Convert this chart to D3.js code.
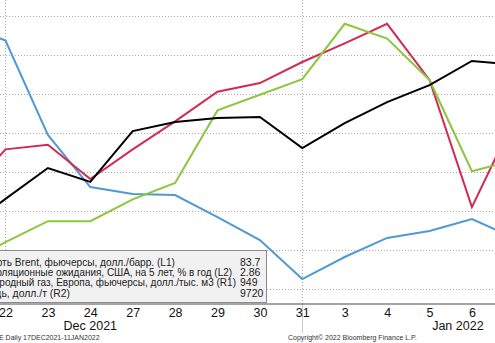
<!DOCTYPE html>
<html>
<head>
<meta charset="utf-8">
<script src="https://cdn.jsdelivr.net/npm/d3@7"></script>
<style>
  html, body { margin: 0; padding: 0; background: #ffffff; overflow: hidden; }
  svg { display: block; }
</style>
</head>
<body>
<svg id="chart" width="495" height="343"></svg>
<script>
// Trading days shown on the axis
const dates = ["2021-12-21", "2021-12-22", "2021-12-23", "2021-12-24", "2021-12-27", "2021-12-28",
               "2021-12-29", "2021-12-30", "2021-12-31", "2022-01-03", "2022-01-04", "2022-01-05",
               "2022-01-06", "2022-01-07"];
const tickLabels = ["21", "22", "23", "24", "27", "28", "29", "30", "31", "3", "4", "5", "6", "7"];

// Series values
const brent     = [73.81, 75.29, 76.76, 76.10, 78.52, 78.95, 79.14, 79.19, 77.71, 78.90, 79.90, 80.71, 81.86, 81.67];
const breakeven = [2.532, 2.560, 2.587, 2.587, 2.615, 2.636, 2.729, 2.749, 2.769, 2.840, 2.821, 2.768, 2.651, 2.665];
const gasEU     = [2159, 2074, 1590, 1323, 1287, 1282, 1169, 1051, 851, 964, 1062, 1097, 1159, 1062];
const copper    = [9519, 9579, 9585, 9541, 9579, 9615, 9653, 9664, 9691, 9715, 9740, 9668, 9505, 9618];

// Legend entries and last values
const legendLabels = [
  "Нефть Brent, фьючерсы, долл./барр. (L1)",
  "Инфляционные ожидания, США, на 5 лет, % в год (L2)",
  "Природный газ, Европа, фьючерсы, долл./тыс. м3 (R1)",
  "Медь, долл./т (R2)"
];
const lastValues = ["83.7", "2.86", "949", "9720"];

const monthLabels = ["Dec 2021", "Jan 2022"];
const gridDates = ["2021-12-22", "2021-12-31"];

const svg = d3.select("#chart");
const axisY = 303.5;
const FONT = "'Liberation Sans', Arial, sans-serif";

const x = d3.scalePoint().domain(dates).range([-36.9, 514.3]);

const yL1 = d3.scaleLinear().domain([71, 84]).range([289, 16]);
const yL2 = d3.scaleLinear().domain([2.50, 2.85]).range([289, 16]);
const yR1 = d3.scaleLinear().domain([800, 2200]).range([289, 16]);
const yR2 = d3.scaleLinear().domain([9400, 9750]).range([289, 16]);

// Horizontal dotted grid (right axis ticks)
svg.append("g")
  .selectAll("line")
  .data(yR2.ticks(8))
  .join("line")
  .attr("x1", 0).attr("x2", 495)
  .attr("y1", d => Math.round(yR2(d)) + 0.5)
  .attr("y2", d => Math.round(yR2(d)) + 0.5)
  .attr("stroke", "#a8a8a8")
  .attr("stroke-width", 1)
  .attr("stroke-dasharray", "1,2");

// Vertical dotted grid
svg.append("g")
  .selectAll("line")
  .data(gridDates)
  .join("line")
  .attr("x1", d => Math.round(x(d)) + 0.5).attr("x2", d => Math.round(x(d)) + 0.5)
  .attr("y1", 0).attr("y2", axisY)
  .attr("stroke", "#a8a8a8")
  .attr("stroke-width", 1)
  .attr("stroke-dasharray", "1,2");

// Year separator below the axis
svg.append("line")
  .attr("x1", Math.round(x("2021-12-31")) + 0.5).attr("x2", Math.round(x("2021-12-31")) + 0.5)
  .attr("y1", axisY).attr("y2", 333)
  .attr("stroke", "#c8c8c8").attr("stroke-width", 1);

// Series lines
const series = [
  { values: gasEU,     y: yR1, color: "#4e9ad3" },
  { values: copper,    y: yR2, color: "#d02c52" },
  { values: breakeven, y: yL2, color: "#8dc63f" },
  { values: brent,     y: yL1, color: "#000000" }
];

series.forEach(s => {
  const line = d3.line()
    .x((d, i) => x(dates[i]))
    .y(d => s.y(d));
  svg.append("path")
    .datum(s.values)
    .attr("d", line)
    .attr("fill", "none")
    .attr("stroke", s.color)
    .attr("stroke-width", 2)
    .attr("stroke-linejoin", "miter");
});

// Legend box
const legend = svg.append("g");
legend.append("rect")
  .attr("x", -10).attr("y", 250.5)
  .attr("width", 276.5).attr("height", 52)
  .attr("fill", "#f1f1f1")
  .attr("stroke", "#8c8c8c")
  .attr("stroke-width", 1);

// Labels start left of the visible area; each is fitted to its column width
const labelStart = -19;
const labelEnds = [175, 232, 236, 70];
legend.selectAll("text.lab")
  .data(legendLabels)
  .join("text")
  .attr("class", "lab")
  .attr("x", labelStart)
  .attr("y", (d, i) => 265.5 + i * 10.4)
  .attr("font-family", FONT)
  .attr("font-size", 10.5)
  .attr("fill", "#222")
  .attr("textLength", (d, i) => labelEnds[i] - labelStart)
  .attr("lengthAdjust", "spacingAndGlyphs")
  .text(d => d);

legend.selectAll("text.val")
  .data(lastValues)
  .join("text")
  .attr("class", "val")
  .attr("x", 240)
  .attr("y", (d, i) => 265.5 + i * 10.4)
  .attr("font-family", FONT)
  .attr("font-size", 10.5)
  .attr("fill", "#222")
  .text(d => d);

// Bottom axis
const axis = d3.axisBottom(x)
  .tickFormat((d, i) => tickLabels[i])
  .tickSize(0)
  .tickPadding(5);

const gAxis = svg.append("g")
  .attr("transform", `translate(0,${axisY})`)
  .call(axis);
gAxis.select(".domain").attr("stroke", "#4a4a4a").attr("stroke-width", 1);
gAxis.selectAll("text")
  .attr("font-family", FONT)
  .attr("font-size", 12.5)
  .attr("fill", "#111");

// Month labels
svg.append("text")
  .attr("x", x("2021-12-24"))
  .attr("y", 330)
  .attr("text-anchor", "middle")
  .attr("font-family", FONT)
  .attr("font-size", 12.5)
  .attr("fill", "#111")
  .text(monthLabels[0]);

svg.append("text")
  .attr("x", x("2022-01-06") - 14)
  .attr("y", 330)
  .attr("text-anchor", "middle")
  .attr("font-family", FONT)
  .attr("font-size", 12.5)
  .attr("fill", "#111")
  .text(monthLabels[1]);

// Footer
svg.append("text")
  .attr("x", -1).attr("y", 340)
  .attr("font-family", FONT)
  .attr("font-size", 7)
  .attr("fill", "#333")
  .text("E  Daily 17DEC2021-11JAN2022");

svg.append("text")
  .attr("x", 288).attr("y", 340)
  .attr("font-family", FONT)
  .attr("font-size", 7)
  .attr("fill", "#333")
  .text("Copyright© 2022 Bloomberg Finance L.P.");
</script>
</body>
</html>
